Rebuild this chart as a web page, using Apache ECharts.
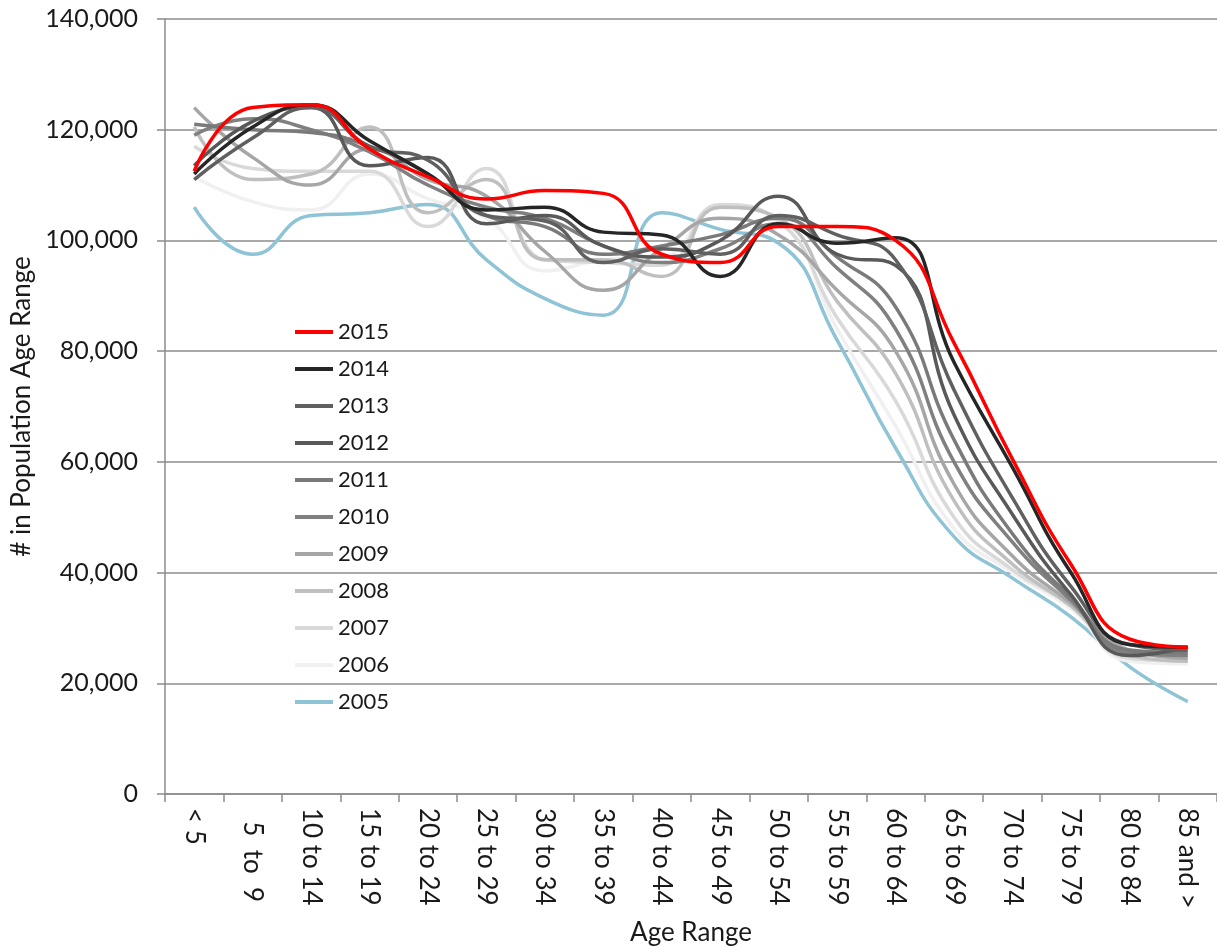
<!DOCTYPE html>
<html>
<head>
<meta charset="utf-8">
<script src="https://cdn.jsdelivr.net/npm/echarts@6/dist/echarts.min.js"></script>
<style>
  html, body { margin: 0; padding: 0; background: #fff; }
  #main { width: 1217px; height: 952px; }
</style>
</head>
<body>
<div id="main"></div>
<script>
// categories (age ranges)
var ages = ['< 5', '  5  to  9', '10 to 14', '15 to 19', '20 to 24', '25 to 29', '30 to 34', '35 to 39', '40 to 44',
    '45 to 49', '50 to 54', '55 to 59', '60 to 64', '65 to 69', '70 to 74', '75 to 79', '80 to 84', '85 and >'];

// values by year
var y2015 = [112500, 124000, 124500, 116500, 111500, 107500, 109000, 108500, 97500, 96000, 102500, 102500, 100000, 81500, 60500, 41500, 28000, 26500];
var y2014 = [112000, 120500, 124500, 118000, 112000, 105500, 106000, 101500, 101000, 93500, 103000, 99500, 100500, 78000, 59000, 40000, 27000, 26500];
var y2013 = [111000, 118500, 124000, 117000, 114500, 104500, 103500, 96000, 98500, 97500, 104500, 101000, 96500, 73000, 53500, 37500, 27000, 26000];
var y2012 = [113500, 121500, 124000, 113500, 115000, 103000, 104500, 99000, 97000, 100000, 108000, 97500, 95500, 68500, 50500, 36000, 25000, 26500];
var y2011 = [121000, 120000, 119500, 117000, 112000, 104500, 102500, 97500, 99000, 101000, 104000, 97000, 88000, 64000, 47000, 35500, 26000, 25500];
var y2010 = [119000, 122000, 120000, 116000, 110000, 106000, 104000, 99000, 96000, 98500, 103000, 95000, 84000, 60000, 45500, 35000, 25500, 25000];
var y2009 = [124000, 115000, 110000, 116500, 111000, 108000, 98000, 91000, 98500, 104000, 101000, 91000, 80000, 56000, 43000, 34500, 26000, 24500];
var y2008 = [120500, 111000, 112000, 120500, 105000, 111000, 96500, 96500, 93500, 106000, 104000, 89000, 76000, 53000, 41500, 34000, 25000, 24000];
var y2007 = [117000, 113000, 112500, 112500, 102500, 113000, 96500, 96000, 95500, 106500, 103500, 86000, 71000, 50000, 40500, 34000, 24500, 24000];
var y2006 = [111500, 107000, 105500, 112000, 107500, 104000, 94500, 96500, 97000, 106000, 103500, 84000, 66500, 48000, 40000, 33500, 24000, 23500];
var y2005 = [106000, 97500, 104500, 105000, 106500, 96500, 89500, 86500, 105000, 102000, 99500, 82000, 62500, 46500, 39000, 32000, 23000, 16700];

var years = ['2005', '2006', '2007', '2008', '2009', '2010', '2011', '2012', '2013', '2014', '2015'];
var values = [y2005, y2006, y2007, y2008, y2009, y2010, y2011, y2012, y2013, y2014, y2015];
var colors = ['#8fc3d6', '#f0f0f0', '#d9d9d9', '#bfbfbf', '#a6a6a6', '#808080', '#7a7a7a', '#595959', '#606060', '#262626', '#ff0000'];

var font = 'Lato, "Open Sans", sans-serif';

var series = [];
for (var i = 0; i < years.length; i++) {
    series.push({
        name: years[i],
        type: 'line',
        data: values[i],
        smooth: true,
        showSymbol: false,
        symbol: 'none',
        color: colors[i],
        lineStyle: { width: 3.5, color: colors[i] }
    });
}

var myChart = echarts.init(document.getElementById('main'));
var option = {
    animation: false,
    textStyle: { fontFamily: font },
    grid: {
        left: 165,
        right: -11,
        top: 19,
        bottom: 158,
        containLabel: false
    },
    legend: {
        orient: 'vertical',
        left: 295,
        top: 321,
        padding: 0,
        data: years.slice().reverse(),
        icon: 'rect',
        itemWidth: 38,
        itemHeight: 4,
        itemGap: 15,
        textStyle: { fontFamily: font, fontSize: 22, color: '#1a1a1a' }
    },
    xAxis: {
        type: 'category',
        data: ages,
        boundaryGap: true,
        name: 'Age Range',
        nameLocation: 'middle',
        nameGap: 126,
        nameTextStyle: { fontFamily: font, fontSize: 26, color: '#1a1a1a' },
        axisLine: { lineStyle: { color: '#8c8c8c', width: 1.5 } },
        axisTick: { show: true, interval: 0, length: 8, lineStyle: { color: '#8c8c8c', width: 1.5 } },
        axisLabel: {
            interval: 0,
            rotate: -90,
            margin: 14,
            fontFamily: font,
            fontSize: 26,
            color: '#1a1a1a'
        },
        splitLine: { show: false }
    },
    yAxis: {
        type: 'value',
        min: 0,
        max: 140000,
        interval: 20000,
        name: '# in Population Age Range',
        nameLocation: 'middle',
        nameGap: 124,
        nameTextStyle: { fontFamily: font, fontSize: 26, color: '#1a1a1a' },
        axisLine: { show: true, lineStyle: { color: '#8c8c8c', width: 1.5 } },
        axisTick: { show: true, length: 8, lineStyle: { color: '#8c8c8c', width: 1.5 } },
        axisLabel: {
            margin: 27,
            fontFamily: font,
            fontSize: 25,
            color: '#1a1a1a',
            formatter: function (v) {
                return v.toLocaleString('en-US');
            }
        },
        splitLine: { lineStyle: { color: '#8c8c8c', width: 1.5 } }
    },
    series: series
};
myChart.setOption(option);
</script>
</body>
</html>
